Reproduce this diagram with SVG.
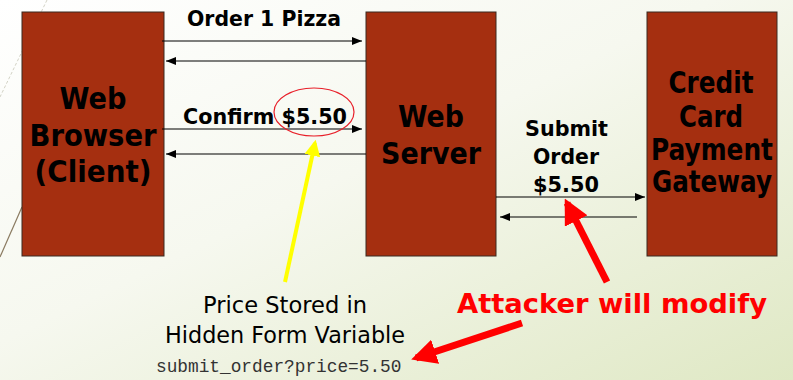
<svg xmlns="http://www.w3.org/2000/svg" width="793" height="380" viewBox="0 0 793 380">
  <defs>
    <linearGradient id="bg" x1="0" y1="0" x2="1" y2="1">
      <stop offset="0" stop-color="#ffffff"/>
      <stop offset="0.45" stop-color="#f6f8ef"/>
      <stop offset="1" stop-color="#dfe8c4"/>
    </linearGradient>
    <marker id="ah" viewBox="0 0 10 8" refX="10" refY="4" markerWidth="10" markerHeight="8" markerUnits="userSpaceOnUse" orient="auto">
      <path d="M0,0 L10,4 L0,8 Z" fill="#000"/>
    </marker>
    <marker id="ahY" viewBox="0 0 10 10" refX="8" refY="5" markerWidth="4" markerHeight="4" orient="auto">
      <path d="M0,0 L10,5 L0,10 Z" fill="#ffff00"/>
    </marker>
    <marker id="ahR" viewBox="0 0 10 10" refX="8" refY="5" markerWidth="3.6" markerHeight="3.6" orient="auto">
      <path d="M0,0 L10,5 L0,10 Z" fill="#ff0000"/>
    </marker>
  </defs>
  <style>
    .box { fill: #a52f10; stroke: #3a2a20; stroke-width: 1; }
    .node-label { font-family: "DejaVu Sans", Verdana, sans-serif; font-weight: bold; font-size: 30px; fill: #000; text-anchor: middle; }
    .msg { font-family: "DejaVu Sans", Verdana, sans-serif; font-weight: bold; font-size: 21px; fill: #000; }
    .msg-line { stroke: #000; stroke-width: 1.2; fill: none; marker-end: url(#ah); }
    .note { font-family: "DejaVu Sans", Tahoma, sans-serif; font-size: 23px; fill: #000; text-anchor: middle; }
    .code { font-family: "Liberation Mono", "Courier New", monospace; font-size: 17.8px; fill: #333; }
    .attack { font-family: "DejaVu Sans", Verdana, sans-serif; font-weight: bold; font-size: 27px; fill: #ff0000; }
  </style>

  <!-- slide background -->
  <rect width="793" height="380" fill="url(#bg)"/>
  <line x1="47" y1="0" x2="0" y2="97" stroke="#c8c8b8" stroke-width="0.8" stroke-dasharray="3 2"/>
  <line x1="22" y1="207" x2="0" y2="257" stroke="#8a7a60" stroke-width="1.2"/>

  <g id="browser">
    <rect class="box" x="22" y="12" width="142" height="244"/>
    <text class="node-label" x="93" y="109" textLength="67" lengthAdjust="spacingAndGlyphs">Web</text>
    <text class="node-label" x="93" y="146" textLength="127" lengthAdjust="spacingAndGlyphs">Browser</text>
    <text class="node-label" x="93" y="182" textLength="117" lengthAdjust="spacingAndGlyphs">(Client)</text>
  </g>

  <g id="server">
    <rect class="box" x="366" y="12" width="130" height="244"/>
    <text class="node-label" x="431" y="127" textLength="66" lengthAdjust="spacingAndGlyphs">Web</text>
    <text class="node-label" x="431" y="164" textLength="100" lengthAdjust="spacingAndGlyphs">Server</text>
  </g>

  <g id="gateway">
    <rect class="box" x="647" y="12" width="130" height="244"/>
    <text class="node-label" x="711" y="93" textLength="85" lengthAdjust="spacingAndGlyphs">Credit</text>
    <text class="node-label" x="711" y="127" textLength="64" lengthAdjust="spacingAndGlyphs">Card</text>
    <text class="node-label" x="712" y="160" textLength="122" lengthAdjust="spacingAndGlyphs">Payment</text>
    <text class="node-label" x="712" y="192" textLength="120" lengthAdjust="spacingAndGlyphs">Gateway</text>
  </g>

  <g id="connectors">
    <line class="msg-line" x1="162" y1="41" x2="362" y2="41"/>
    <line class="msg-line" x1="366" y1="61" x2="166" y2="61"/>
    <line class="msg-line" x1="162" y1="129" x2="362" y2="129"/>
    <line class="msg-line" x1="366" y1="154" x2="166" y2="154"/>
    <line class="msg-line" x1="496" y1="197" x2="645" y2="197"/>
    <line class="msg-line" x1="637" y1="217" x2="500" y2="217"/>
  </g>

  <g id="labels">
    <text class="msg" x="187" y="26" textLength="154" lengthAdjust="spacingAndGlyphs">Order 1 Pizza</text>
    <text class="msg" x="183" y="124" textLength="164" lengthAdjust="spacingAndGlyphs">Confirm $5.50</text>
    <text class="msg" x="525" y="136" textLength="83" lengthAdjust="spacingAndGlyphs">Submit</text>
    <text class="msg" x="533" y="164" textLength="66" lengthAdjust="spacingAndGlyphs">Order</text>
    <text class="msg" x="533" y="192" textLength="66" lengthAdjust="spacingAndGlyphs">$5.50</text>
  </g>

  <!-- price highlight and callouts -->
  <g id="price-highlight">
    <ellipse cx="314" cy="112" rx="40" ry="24" fill="none" stroke="#e8202a" stroke-width="1.2"/>
  </g>

  <g id="hidden-field-note">
    <line x1="285" y1="282" x2="315" y2="143" stroke="#ffff00" stroke-width="4" marker-end="url(#ahY)"/>
    <text class="note" x="285" y="313" textLength="164" lengthAdjust="spacingAndGlyphs">Price Stored in</text>
    <text class="note" x="285" y="343" textLength="240" lengthAdjust="spacingAndGlyphs">Hidden Form Variable</text>
    <text class="code" x="156" y="372">submit_order?price=5.50</text>
  </g>

  <g id="attacker-note">
    <line x1="607" y1="282" x2="567" y2="203" stroke="#ff0000" stroke-width="7" marker-end="url(#ahR)"/>
    <line x1="522" y1="323" x2="416" y2="358" stroke="#ff0000" stroke-width="7" marker-end="url(#ahR)"/>
    <text class="attack" x="457" y="313" textLength="310" lengthAdjust="spacingAndGlyphs">Attacker will modify</text>
  </g>
</svg>
